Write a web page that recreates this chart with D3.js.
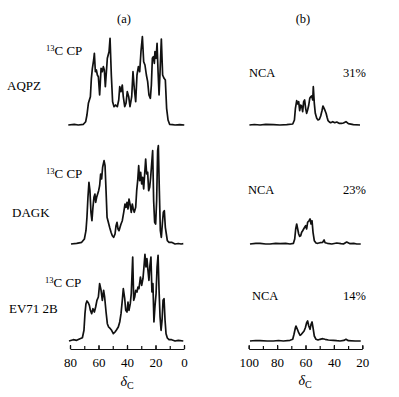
<!DOCTYPE html>
<html>
<head>
<meta charset="utf-8">
<script src="https://cdn.jsdelivr.net/npm/d3@7"></script>
<style>
  body { margin: 0; background: #fff; }
  svg { display: block; font-family: "Liberation Serif", "DejaVu Serif", serif; }
  svg text { fill: #000; }
  .spec { fill: none; stroke: #111; stroke-width: 1.7; stroke-linejoin: round; }
  .axis path, .axis line { stroke: #111; stroke-width: 1.2; }
  .axis text { font-family: "Liberation Serif", serif; font-size: 13px; fill: #000; }
</style>
</head>
<body>
<svg id="chart" width="399" height="397"></svg>
<script>
// sample names and NCA transfer efficiencies
const sampleNames = ["AQPZ", "DAGK", "EV71 2B"];
const ncaPercents = ["31%", "23%", "14%"];
const leftTicks = [80, 60, 40, 20, 0];
const rightTicks = [100, 80, 60, 40, 20];

// 13C CP spectra, [ppm, intensity]
const aqpzCP = [[81.2,0],[77,0.6],[74.2,0],[70.6,0.7],[69.0,3.3],[68.1,10],[67.1,21.7],[66.4,25],[65.7,28.3],[65.0,46.7],
  [64.3,56.7],[63.4,65],[62.9,71.7],[62.2,53.3],[61.5,55],[60.8,50],[60.1,48.3],[59.2,30],[58.2,56.7],[57.3,53.3],
  [56.6,58.3],[55.9,55],[55.2,38.3],[53.8,66.7],[52.6,73.3],[51.9,86.7],[51.0,50],[50.1,23.3],[49.1,18.3],[48.0,20],
  [46.8,18.3],[45.8,25],[45.1,38.3],[44.2,33.3],[43.3,40],[42.6,28.3],[41.6,18.3],[40.7,21.7],[39.8,33.3],[38.8,28.3],
  [37.9,18.3],[36.7,28.3],[35.8,53.3],[34.9,36.7],[33.9,23.3],[33.0,50],[32.0,58.3],[31.1,53.3],[30.2,73.3],[29.2,88.3],
  [28.3,63.3],[27.4,60],[26.4,50],[25.5,43.3],[24.6,30],[23.6,26.7],[22.9,40],[22.2,66.7],[21.5,68.3],[20.8,61.7],
  [20.4,73.3],[19.6,66.7],[18.9,81.7],[18.2,53.3],[17.5,30],[16.8,53.3],[15.9,86],[15.0,50],[14.0,46.7],[13.1,45],
  [12.2,16.7],[11.2,5],[10.1,0.7],[8,0.3],[6.3,0],[3,0.4],[-0.2,0]];

const dagkCP = [[79.3,0],[75.3,0.7],[71.8,1.7],[69.9,5],[68.8,13.3],[68.1,26.7],[67.4,46.7],[66.7,61.7],[66.0,53.3],[65.3,31.7],
  [64.6,23.3],[63.9,36.7],[63.2,46.7],[62.5,50],[62.0,41.7],[61.3,46.7],[60.6,50],[59.9,53.3],[59.2,58.3],[58.5,70],
  [57.8,65],[57.1,76.7],[56.1,83.3],[55.4,78.3],[54.7,53.3],[54.0,26.7],[53.1,21.7],[52.2,16.7],[51.2,11.7],[50.3,8.3],
  [49.4,6.7],[48.4,10],[47.7,18.3],[47.0,21.7],[46.3,15],[45.6,13.3],[44.9,16.7],[44.2,20],[43.3,23.3],[42.3,31.7],
  [41.4,40],[40.7,36.7],[40.0,41.7],[39.3,35],[38.6,45],[37.7,38.3],[37.0,31.7],[36.3,40],[35.6,35],[34.9,31.7],
  [33.9,36.7],[33.2,53.3],[32.5,63.3],[31.8,78.3],[31.1,63.3],[30.4,71.7],[29.7,60],[29.0,66.7],[28.3,55],[27.6,70],
  [26.9,85],[26.2,70],[25.5,71.7],[24.8,53.3],[24.1,56.7],[23.4,66.7],[22.7,80],[22.0,93.3],[21.3,43.3],[20.6,21.7],
  [19.9,20],[19.2,43.3],[18.5,93.3],[18.0,98.3],[17.3,53.3],[16.6,13.3],[15.9,6.7],[15.2,20],[14.5,31.7],[13.8,33.3],
  [13.1,16.7],[12.4,10],[11.7,3.3],[10.5,1.7],[8.7,1.7],[6.3,0],[4.0,0.5],[2,0],[0.5,0.3]];

const ev71CP = [[80.7,0],[77.7,1.3],[75.3,0.7],[73.0,2.3],[71.3,3.3],[70.2,10.7],[69.5,27.3],[68.8,37.3],[68.1,40],[67.1,38],
  [66.4,35.7],[65.7,30.7],[64.8,27.3],[63.9,32.3],[62.9,29],[62.0,34],[61.1,40.7],[60.1,44],[59.2,57.3],[58.2,50.7],
  [57.3,40.7],[56.4,50.7],[55.7,44],[54.7,29],[53.8,17.3],[52.9,14],[51.7,12.3],[50.8,10.7],[49.6,7.3],[48.4,9],
  [47.3,11.3],[46.1,14],[45.1,19],[44.2,27.3],[43.3,40.7],[42.6,52.3],[41.6,42.3],[40.9,30.7],[40.0,29],[39.3,39],
  [38.6,30.7],[37.7,37.3],[37.0,47.3],[36.0,84],[35.3,40.7],[34.6,44],[33.9,50.7],[33.0,49],[32.3,54],[31.6,52.3],
  [30.6,64],[29.7,55.7],[28.8,62.3],[28.1,74],[27.4,86.7],[26.7,74],[26.0,82.3],[25.3,70.7],[24.6,60.7],[23.9,75.7],
  [23.2,84],[22.5,49],[21.8,57.3],[21.1,19],[20.4,34],[19.6,47.3],[18.9,74],[18.2,85.7],[17.5,50.7],[16.8,24],
  [16.1,10.7],[15.4,20.7],[14.7,40.7],[14.0,42.3],[13.3,20.7],[12.6,7.3],[11.7,3],[10.5,1.3],[8.7,1.3],[6.3,0],
  [4.0,0.7],[0.5,0]];

// NCA spectra, [ppm, intensity]
const aqpzNCA = [[99.5,0],[96,0.5],[92.0,0],[88,0.6],[82.6,0.3],[78,0],[73.2,0.3],[69.0,1],[67.8,5],[67.1,16.7],[66.2,24.3],
  [65.5,21],[64.8,23.3],[64.1,14.3],[63.4,20],[62.7,19],[62.0,13.3],[61.3,23.3],[60.6,25],[59.9,16.7],[59.2,11.7],
  [58.5,15],[57.7,20],[57.0,26.7],[56.3,28.3],[55.6,29],[54.9,25],[54.5,38.3],[53.8,21.7],[53.1,11.7],[52.1,6.7],
  [51.2,5],[50.2,5.7],[49.3,9],[48.4,14.3],[47.7,19],[46.9,16.7],[46.2,14.3],[45.5,11.7],[44.8,7.7],[44.1,4.3],
  [43.2,3],[42.3,2.3],[40.8,3.3],[39.4,2.3],[38.0,3],[36.4,1.7],[34.7,1.7],[33.3,2],[31.5,3.3],[29.8,1.3],
  [26.3,0.3],[21.6,0]];

const dagkNCA = [[99.1,0],[95,0.6],[92.0,0.7],[88,0],[85.0,0],[81,0.6],[77.9,0.3],[74,0.7],[70.9,0],[68.5,0.7],[67.6,5],
  [66.9,15],[66.2,20],[65.5,15],[64.8,10],[64.1,7.7],[63.4,8.3],[62.7,11.7],[62.0,13.3],[61.3,15],[60.6,16.7],
  [59.9,18.3],[59.2,15],[58.5,21.7],[57.5,23.3],[56.8,25],[56.1,20],[55.4,23.3],[54.7,11.7],[53.8,3.3],[52.6,1],
  [51.4,0.7],[49.8,1.3],[47.9,1.7],[46.9,4],[46.2,1.3],[44.6,0.7],[41.5,0],[38.0,1],[35,0.3],[33.3,0],[31.0,2],
  [28.6,0.3],[26,0.6],[23.9,0],[21.1,0]];

const ev71NCA = [[99.1,0],[95,0.5],[92.0,0.3],[87,0],[82.6,0],[79,0.5],[75.6,0],[70.9,0.7],[69.0,1.7],[68.1,6.7],[67.1,13.3],
  [66.7,15],[65.7,11.7],[64.8,8.3],[63.8,5.7],[62.9,6.7],[62.0,8.3],[61.0,10],[60.1,13.3],[59.2,18.3],[58.5,20],
  [57.7,15],[56.8,11.7],[56.1,16.7],[55.4,19],[54.7,13.3],[53.8,5],[52.6,1.7],[51.2,1],[49.8,1.7],[47.9,2.3],
  [46.2,1.7],[43.9,1],[40.4,0.7],[38,0.3],[35.7,0],[33,0.6],[31.5,1.7],[29.8,0.3],[25.1,0],[21.1,0]];

const cpSeries = [aqpzCP, dagkCP, ev71CP];
const ncaSeries = [aqpzNCA, dagkNCA, ev71NCA];

// layout
const rowBase = [125, 244, 341];
const cpLabel = [{x: 46, y: 55}, {x: 46, y: 178}, {x: 45, y: 287}];
const nameLabel = [{x: 7, y: 90}, {x: 12, y: 217}, {x: 9, y: 313}];
const ncaLabel = [{x: 249, y: 77}, {x: 248, y: 194}, {x: 252, y: 300}];
const axisY = 349;

const svg = d3.select("#chart");

const xLeft = d3.scaleLinear().domain([80, 0]).range([70, 184]);
const xRight = d3.scaleLinear().domain([100, 20]).range([248.7, 362.3]);

const labelFont = 13;

// panel titles
svg.append("text").attr("x", 124).attr("y", 23).attr("text-anchor", "middle")
  .style("font-size", "12.5px").text("(a)");
svg.append("text").attr("x", 303).attr("y", 23).attr("text-anchor", "middle")
  .style("font-size", "12.5px").text("(b)");

rowBase.forEach((base, i) => {
  const y = d3.scaleLinear().domain([0, 100]).range([base, base - 100]);

  const lineL = d3.line().x(d => xLeft(d[0])).y(d => y(d[1]));
  const lineR = d3.line().x(d => xRight(d[0])).y(d => y(d[1]));

  svg.append("path").attr("class", "spec").datum(cpSeries[i]).attr("d", lineL);
  svg.append("path").attr("class", "spec").datum(ncaSeries[i]).attr("d", lineR);

  // 13C CP label
  const cp = svg.append("text").attr("x", cpLabel[i].x).attr("y", cpLabel[i].y)
    .style("font-size", labelFont + "px");
  cp.append("tspan").attr("dy", -4.5).style("font-size", "8.5px").text("13");
  cp.append("tspan").attr("dy", 4.5).text("C CP");

  svg.append("text").attr("x", nameLabel[i].x).attr("y", nameLabel[i].y)
    .style("font-size", labelFont + "px").text(sampleNames[i]);

  svg.append("text").attr("x", ncaLabel[i].x).attr("y", ncaLabel[i].y)
    .style("font-size", "12.5px").text("NCA");
  svg.append("text").attr("x", 366).attr("y", ncaLabel[i].y).attr("text-anchor", "end")
    .style("font-size", "12.5px").text(ncaPercents[i]);
});

// axes: major ticks with labels, minor ticks every 10
function drawAxis(scale, ticks, lo, hi) {
  const minor = d3.range(hi, lo + 1, 10);
  svg.append("g").attr("class", "axis").attr("transform", `translate(0,${axisY})`)
    .call(d3.axisBottom(scale).tickValues(minor).tickSize(-3).tickSizeOuter(0).tickFormat(""));
  svg.append("g").attr("class", "axis").attr("transform", `translate(0,${axisY})`)
    .call(d3.axisBottom(scale).tickValues(ticks).tickSize(-4).tickSizeOuter(0).tickPadding(6))
    .call(g => g.select(".domain").remove())
    .call(g => g.selectAll("text").attr("dy", "0.95em"));
}
drawAxis(xLeft, leftTicks, 80, 0);
drawAxis(xRight, rightTicks, 100, 20);

// delta_C axis titles
function deltaLabel(x, yy) {
  const t = svg.append("text").attr("x", x).attr("y", yy).attr("text-anchor", "middle")
    .style("font-size", "14px");
  t.append("tspan").style("font-style", "italic").text("δ");
  t.append("tspan").attr("dy", 3).style("font-size", "10px").text("C");
}
deltaLabel(127, 386);
deltaLabel(305, 385);
</script>
</body>
</html>
